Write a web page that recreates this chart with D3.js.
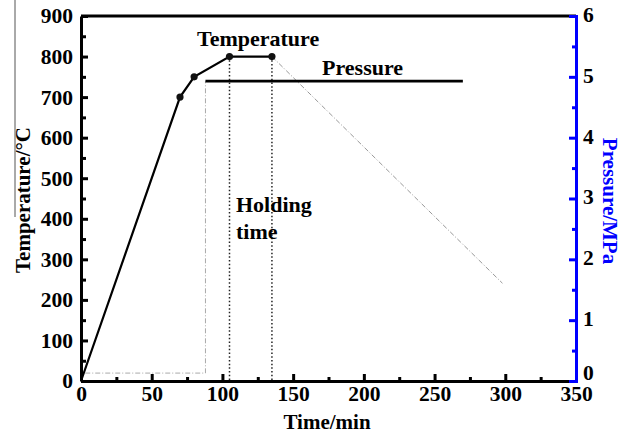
<!DOCTYPE html>
<html>
<head>
<meta charset="utf-8">
<script src="https://cdn.jsdelivr.net/npm/d3@7"></script>
<style>
  body { margin: 0; background: #fff; }
  svg { display: block; font-family: "Liberation Serif", "Times New Roman", serif; font-weight: bold; }
</style>
</head>
<body>
<svg id="chart" width="630" height="434"></svg>
<script>
// temperature profile (time in min, temperature in °C)
const tempTime = [0, 70, 80, 105, 135]
const tempVal = [0, 700, 750, 800, 800]
const markTime = [70, 80, 105, 135]
const markVal = [700, 750, 800, 800]
const coolTime = [135, 298]
const coolVal = [800, 241]
const holdTime = [105, 135]

// pressure profile (MPa)
const rampTime = [3, 88, 88]
const rampVal = [0.13, 0.13, 4.93]
const pressTime = [88, 270]
const pressVal = [4.93, 4.93]

const xTicks = [0, 50, 100, 150, 200, 250, 300, 350]
const yTicks = [0, 100, 200, 300, 400, 500, 600, 700, 800, 900]
const pTicks = [0, 1, 2, 3, 4, 5, 6]

const svg = d3.select('#chart')
const mLeft = 81, mRight = 576, mTop = 16, mBottom = 381

const x = d3.scaleLinear().domain([0, 350]).range([mLeft, mRight])
const y = d3.scaleLinear().domain([0, 900]).range([mBottom, mTop])
const yp = d3.scaleLinear().domain([0, 6]).range([mBottom, mTop])

const zip = (a, b) => a.map((v, i) => [v, b[i]])
const lineT = d3.line().x(d => x(d[0])).y(d => y(d[1]))
const lineP = d3.line().x(d => x(d[0])).y(d => yp(d[1]))

// odd thin line left of the title, as in the scan
svg.append('line')
    .attr('x1', 15).attr('x2', 15).attr('y1', 0).attr('y2', 217)
    .attr('stroke', '#555').attr('stroke-width', 1)

// holding-time dotted verticals
svg.append('g')
    .selectAll('line')
    .data(holdTime)
    .join('line')
    .attr('x1', d => x(d)).attr('x2', d => x(d))
    .attr('y1', y(800)).attr('y2', mBottom)
    .attr('stroke', '#222').attr('stroke-width', 1.5)
    .attr('stroke-dasharray', '1.5,2.2')

// pressure ramp (thin dash-dot)
svg.append('path')
    .attr('d', lineP(zip(rampTime, rampVal)))
    .attr('fill', 'none').attr('stroke', '#aaa').attr('stroke-width', 1)
    .attr('stroke-dasharray', '5,2,1,2')

// cooling (thin dash-dot)
svg.append('path')
    .attr('d', lineT(zip(coolTime, coolVal)))
    .attr('fill', 'none').attr('stroke', '#999').attr('stroke-width', 1)
    .attr('stroke-dasharray', '5,2,1,2')

// pressure plateau
svg.append('path')
    .attr('d', lineP(zip(pressTime, pressVal)))
    .attr('fill', 'none').attr('stroke', '#000').attr('stroke-width', 2.8)

// temperature line
svg.append('path')
    .attr('d', lineT(zip(tempTime, tempVal)))
    .attr('fill', 'none').attr('stroke', '#000').attr('stroke-width', 2.2)

svg.append('g')
    .selectAll('circle')
    .data(zip(markTime, markVal))
    .join('circle')
    .attr('cx', d => x(d[0]))
    .attr('cy', d => y(d[1]))
    .attr('r', 3.6)
    .attr('fill', '#111')

// axes
function styleAxis(g, color) {
    g.selectAll('.domain').attr('stroke', color).attr('stroke-width', 3)
    g.selectAll('.tick line').attr('stroke', color).attr('stroke-width', 3)
    g.selectAll('text').attr('fill', '#000').attr('font-size', 21.5)
        .attr('font-family', '"Liberation Serif", serif').attr('font-weight', 'bold')
}

// top frame line
svg.append('line')
    .attr('x1', mLeft).attr('x2', mRight).attr('y1', mTop).attr('y2', mTop)
    .attr('stroke', '#000').attr('stroke-width', 3)

const gx = svg.append('g').attr('transform', `translate(0,${mBottom})`)
    .call(d3.axisBottom(x).tickValues(xTicks).tickSize(-7).tickSizeOuter(0).tickPadding(5))
styleAxis(gx, '#000')
svg.append('g').attr('transform', `translate(0,${mBottom})`)
    .call(d3.axisBottom(x).tickValues(xTicks.slice(0, -1).map(d => d + 25)).tickSize(-4).tickFormat(''))
    .call(g => g.select('.domain').remove())
    .call(g => g.selectAll('.tick line').attr('stroke', '#000').attr('stroke-width', 3))

const gy = svg.append('g').attr('transform', `translate(${mLeft},0)`)
    .call(d3.axisLeft(y).tickValues(yTicks).tickSize(-7).tickSizeOuter(0).tickPadding(8))
styleAxis(gy, '#000')
svg.append('g').attr('transform', `translate(${mLeft},0)`)
    .call(d3.axisLeft(y).tickValues(yTicks.slice(0, -1).map(d => d + 50)).tickSize(-5).tickFormat(''))
    .call(g => g.select('.domain').remove())
    .call(g => g.selectAll('.tick line').attr('stroke', '#000').attr('stroke-width', 3))

const gp = svg.append('g').attr('transform', `translate(${mRight},0)`)
    .call(d3.axisRight(yp).tickValues(pTicks).tickFormat(d3.format('d'))
        .tickSize(-7).tickSizeOuter(-5).tickPadding(7))
styleAxis(gp, '#0000ff')
gp.selectAll('text').attr('dy', d => d === 0 ? '-0.05em' : '0.25em')
svg.append('g').attr('transform', `translate(${mRight},0)`)
    .call(d3.axisRight(yp).tickValues(pTicks.slice(0, -1).map(d => d + 0.5)).tickSize(-4).tickFormat(''))
    .call(g => g.select('.domain').remove())
    .call(g => g.selectAll('.tick line').attr('stroke', '#0000ff').attr('stroke-width', 3))

// axis titles
svg.append('text')
    .attr('transform', 'translate(30,200) rotate(-90)')
    .attr('text-anchor', 'middle').attr('font-size', 21)
    .text('Temperature/°C')

svg.append('text')
    .attr('transform', 'translate(603,201) rotate(90)')
    .attr('text-anchor', 'middle').attr('font-size', 21).attr('fill', '#0000ff')
    .text('Pressure/MPa')

svg.append('text')
    .attr('x', 327).attr('y', 429)
    .attr('text-anchor', 'middle').attr('font-size', 21)
    .text('Time/min')

// annotations
const notes = [
    {t: 'Temperature', x: 197, y: 46},
    {t: 'Pressure', x: 322, y: 75},
    {t: 'Holding', x: 236, y: 212},
    {t: 'time', x: 236, y: 239}
]
svg.append('g')
    .selectAll('text')
    .data(notes)
    .join('text')
    .attr('x', d => d.x)
    .attr('y', d => d.y)
    .attr('font-size', 22)
    .text(d => d.t)
</script>
</body>
</html>
